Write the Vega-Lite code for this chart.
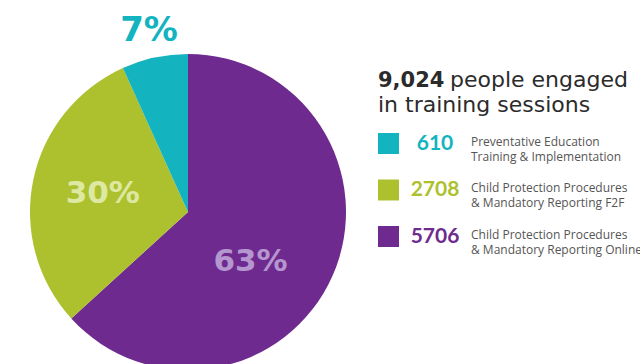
{
  "$schema": "https://vega.github.io/schema/vega-lite/v6.json",
  "padding": 0,
  "background": "white",
  "config": {"view": {"stroke": null}, "concat": {"spacing": 0}},
  "datasets": {
    "programs": [
      {"program": "Child Protection Procedures & Mandatory Reporting Online", "count": 5706, "pct": "63%", "order": 1, "desc": "Child Protection Procedures\n& Mandatory Reporting Online"},
      {"program": "Child Protection Procedures & Mandatory Reporting F2F", "count": 2708, "pct": "30%", "order": 2, "desc": "Child Protection Procedures\n& Mandatory Reporting F2F"},
      {"program": "Preventative Education Training & Implementation", "count": 610, "pct": "7%", "order": 3, "desc": "Preventative Education\nTraining & Implementation"}
    ]
  },
  "hconcat": [
    {
      "width": 376,
      "height": 364,
      "data": {"name": "programs"},
      "transform": [
        {"stack": "count", "groupby": [], "sort": [{"field": "order", "order": "ascending"}], "as": ["start", "end"]},
        {"calculate": "(datum.start + datum.end) / 2", "as": "mid"}
      ],
      "layer": [
        {
          "mark": {"type": "arc", "outerRadius": 158, "yOffset": 30},
          "encoding": {
            "theta": {"field": "start", "type": "quantitative", "scale": {"domain": [0, 9024]}},
            "theta2": {"field": "end"},
            "color": {
              "field": "program", "type": "nominal", "legend": null,
              "scale": {
                "domain": ["Preventative Education Training & Implementation", "Child Protection Procedures & Mandatory Reporting F2F", "Child Protection Procedures & Mandatory Reporting Online"],
                "range": ["#13b3bf", "#adc12f", "#6e2a8e"]
              }
            }
          }
        },
        {
          "transform": [{"filter": "datum.order == 3"}],
          "mark": {"type": "text", "radius": 185, "yOffset": 30, "fontSize": 34, "fontWeight": "bold", "font": "DejaVu Sans", "color": "#13b3bf", "align": "center", "baseline": "middle"},
          "encoding": {
            "theta": {"field": "mid", "type": "quantitative", "scale": {"domain": [0, 9024]}},
            "text": {"field": "pct"}
          }
        },
        {
          "transform": [{"filter": "datum.order == 2"}],
          "mark": {"type": "text", "radius": 87, "yOffset": 30, "fontSize": 31, "fontWeight": "bold", "font": "DejaVu Sans", "color": "#dde8a3", "align": "center", "baseline": "middle"},
          "encoding": {
            "theta": {"field": "mid", "type": "quantitative", "scale": {"domain": [0, 9024]}},
            "text": {"field": "pct"}
          }
        },
        {
          "transform": [{"filter": "datum.order == 1"}],
          "mark": {"type": "text", "radius": 80, "thetaOffset": 0.258, "yOffset": 30, "fontSize": 31, "fontWeight": "bold", "font": "DejaVu Sans", "color": "#b596cf", "align": "center", "baseline": "middle"},
          "encoding": {
            "theta": {"field": "mid", "type": "quantitative", "scale": {"domain": [0, 9024]}},
            "text": {"field": "pct"}
          }
        }
      ]
    },
    {
      "width": 264,
      "height": 364,
      "layer": [
        {
          "data": {"values": [{"t": "9,024"}]},
          "mark": {"type": "text", "x": 2, "y": 87, "align": "left", "baseline": "alphabetic", "fontSize": 21, "fontWeight": "bold", "font": "DejaVu Sans", "color": "#2b2b2b"},
          "encoding": {"text": {"field": "t"}}
        },
        {
          "data": {"values": [{"t": "people engaged"}]},
          "mark": {"type": "text", "x": 74, "y": 87, "align": "left", "baseline": "alphabetic", "fontSize": 22, "font": "DejaVu Sans", "color": "#2b2b2b"},
          "encoding": {"text": {"field": "t"}}
        },
        {
          "data": {"values": [{"t": "in training sessions"}]},
          "mark": {"type": "text", "x": 2, "y": 112, "align": "left", "baseline": "alphabetic", "fontSize": 22, "font": "DejaVu Sans", "color": "#2b2b2b"},
          "encoding": {"text": {"field": "t"}}
        },
        {
          "data": {"name": "programs"},
          "encoding": {
            "y": {
              "field": "program", "type": "nominal", "axis": null,
              "scale": {"type": "point", "padding": 0, "domain": ["Preventative Education Training & Implementation", "Child Protection Procedures & Mandatory Reporting F2F", "Child Protection Procedures & Mandatory Reporting Online"], "range": [143.5, 236.5]}
            },
            "color": {
              "field": "program", "type": "nominal", "legend": null,
              "scale": {
                "domain": ["Preventative Education Training & Implementation", "Child Protection Procedures & Mandatory Reporting F2F", "Child Protection Procedures & Mandatory Reporting Online"],
                "range": ["#13b3bf", "#adc12f", "#6e2a8e"]
              }
            }
          },
          "layer": [
            {"mark": {"type": "square", "x": 12.5, "size": 441, "filled": true, "opacity": 1}},
            {"mark": {"type": "text", "x": 59, "align": "center", "baseline": "middle", "fontSize": 21, "fontWeight": "bold", "font": "Lato"}, "encoding": {"text": {"field": "count"}}},
            {"mark": {"type": "text", "x": 95, "align": "left", "baseline": "middle", "dy": -2, "fontSize": 12, "font": "Open Sans", "lineBreak": "\n", "lineHeight": 15}, "encoding": {"text": {"field": "desc"}, "color": {"value": "#555555"}}}
          ]
        }
      ]
    }
  ]
}
